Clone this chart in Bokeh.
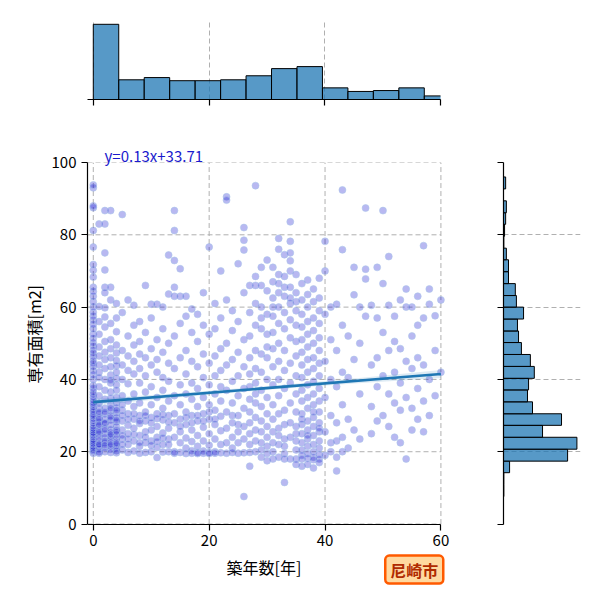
import numpy as np
from bokeh.plotting import figure
from bokeh.layouts import column, row
from bokeh.models import Title, Label, FixedTicker, Range1d
from bokeh.embed import file_html
from bokeh.resources import INLINE

FONT = "Noto Sans CJK JP"

# scatter: area [m2] of each listing, grouped by building age (index = age in years)
area_by_age = [
    [19.6, 20.1, 20.5, 21.0, 21.4, 22.0, 22.3, 22.8, 23.3, 24.0, 24.5, 25.0, 25.3, 25.9, 26.4, 27.0,
     27.8, 28.5, 29.1, 29.8, 30.2, 31.0, 31.5, 32.3, 33.0, 33.5, 34.2, 35.0, 35.8, 36.5, 37.5, 38.3,
     40.0, 41.2, 42.3, 43.5, 44.4, 45.1, 46.3, 47.2, 48.0, 49.2, 50.1, 51.3, 52.5, 54.0, 55.2, 56.4,
     57.5, 58.6, 60.0, 61.5, 63.0, 64.3, 65.5, 68.3, 70.2, 71.8, 76.6, 81.2, 87.5, 88.0, 93.0, 93.8],
    [83.0, 60.2, 56.0, 52.5, 49.0, 46.5, 44.0, 42.0, 40.5, 38.0, 35.5, 33.5, 32.0, 30.6, 29.5, 28.3,
     27.2, 26.0, 25.0, 24.0, 23.2, 22.3, 21.5, 20.8, 20.0, 19.6, 29.0, 25.5, 22.0, 31.0, 27.5],
    [86.7, 83.0, 75.0, 70.3, 65.5, 64.0, 59.8, 57.3, 54.5, 50.5, 47.5, 45.5, 43.0, 40.0, 37.0, 34.5,
     32.0, 30.5, 29.0, 27.8, 26.5, 25.0, 24.0, 22.5, 21.2, 20.0, 31.0, 28.0, 23.0, 26.0, 21.8],
    [86.7, 65.5, 62.0, 55.5, 51.0, 48.5, 46.0, 43.5, 41.2, 39.0, 36.5, 34.8, 33.0, 31.4, 30.0, 28.8,
     27.5, 26.2, 25.4, 24.3, 23.5, 22.6, 21.6, 20.7, 19.8, 39.8, 29.5, 24.8, 32.0, 22.0],
    [61.0, 57.0, 53.2, 49.5, 47.3, 45.2, 43.8, 42.0, 40.3, 38.5, 37.0, 35.0, 33.6, 32.2, 30.8, 29.5,
     28.3, 27.0, 26.0, 24.8, 23.8, 22.8, 21.8, 21.0, 20.3, 19.7, 31.5, 22.3, 25.5, 28.8],
    [85.6, 58.5, 48.0, 44.0, 40.0, 35.5, 31.5, 28.5, 26.0, 23.5, 20.5, 22.0, 30.0, 24.5, 33.0],
    [62.0, 52.0, 46.5, 42.5, 38.8, 34.0, 30.5, 27.3, 25.0, 22.0, 19.8, 29.0, 23.5],
    [60.5, 55.0, 49.5, 45.0, 41.5, 36.0, 32.5, 29.0, 26.5, 23.0, 20.2, 30.5, 24.8],
    [56.0, 50.5, 47.0, 43.0, 39.0, 33.5, 30.0, 27.8, 24.5, 21.5, 19.6, 28.5, 22.5],
    [66.0, 53.0, 46.0, 41.0, 36.5, 31.0, 28.5, 25.5, 22.5, 19.8, 30.0, 24.0],
    [60.8, 57.0, 48.5, 44.0, 38.0, 33.0, 29.5, 26.0, 23.0, 20.0, 28.0, 21.8],
    [60.8, 51.0, 45.5, 42.0, 35.0, 30.5, 27.0, 24.0, 21.2, 18.4, 29.2, 22.8],
    [60.0, 54.0, 47.5, 40.5, 37.0, 32.0, 28.8, 25.2, 22.0, 19.9, 30.2, 23.8],
    [74.4, 63.6, 50.0, 44.5, 39.5, 34.0, 30.0, 26.5, 23.5, 20.0, 28.2, 22.0],
    [86.7, 81.2, 72.9, 65.5, 63.0, 52.0, 43.0, 35.5, 28.0, 24.0, 20.0, 19.6, 30.5],
    [70.6, 63.0, 55.5, 46.0, 38.5, 33.0, 29.0, 25.5, 22.5, 19.8, 27.0],
    [63.0, 57.5, 48.0, 41.5, 36.0, 31.0, 27.5, 23.8, 21.0, 19.5, 29.5],
    [59.5, 53.0, 45.0, 39.0, 34.5, 30.0, 26.0, 22.8, 20.3, 19.6, 28.0],
    [58.0, 50.5, 43.5, 37.5, 32.5, 28.5, 24.5, 21.5, 19.8, 19.5, 30.0],
    [64.0, 55.0, 47.0, 40.5, 35.0, 30.5, 26.8, 23.0, 20.2, 19.6, 28.5],
    [76.6, 52.5, 44.5, 38.5, 33.0, 29.0, 25.0, 21.8, 19.8, 19.5, 31.0],
    [61.0, 54.0, 46.5, 41.0, 36.0, 31.5, 27.5, 23.5, 20.0, 19.6, 29.0],
    [70.0, 57.0, 48.5, 42.5, 34.0, 29.8, 25.8, 22.0, 19.7, 38.0],
    [90.5, 89.6, 62.0, 50.0, 44.0, 37.0, 31.0, 26.5, 19.6, 22.5],
    [59.0, 53.5, 45.5, 39.5, 33.5, 28.0, 24.0, 21.0, 19.8, 30.0],
    [72.0, 56.0, 47.5, 41.0, 35.5, 30.0, 25.5, 22.5, 19.6, 27.5],
    [82.0, 78.5, 75.8, 64.0, 51.0, 43.5, 37.5, 32.0, 27.0, 23.5, 7.6, 19.7],
    [66.0, 58.5, 52.0, 46.0, 41.5, 38.0, 34.5, 31.0, 28.0, 25.0, 22.0, 19.8, 16.0],
    [93.6, 68.5, 66.0, 61.0, 55.0, 48.0, 43.0, 39.0, 33.5, 29.5, 26.0, 23.0, 20.0, 36.0],
    [71.0, 66.0, 60.0, 54.0, 47.0, 42.0, 37.0, 32.5, 28.5, 25.5, 22.5, 20.5, 18.5, 57.0],
    [73.0, 64.5, 58.0, 52.5, 46.0, 40.0, 35.0, 30.5, 27.0, 24.0, 21.5, 19.5, 17.5, 49.0],
    [71.0, 67.0, 62.5, 57.5, 53.0, 48.5, 43.5, 38.5, 33.0, 29.0, 25.5, 22.5, 20.0, 18.0, 60.0],
    [79.0, 76.0, 69.0, 64.0, 60.0, 55.5, 50.0, 45.0, 40.0, 35.5, 30.5, 26.5, 22.0, 18.5, 66.5, 24.5],
    [74.5, 68.5, 63.0, 58.5, 54.0, 48.0, 42.5, 37.5, 31.5, 27.5, 23.5, 19.5, 18.0, 11.5, 65.5, 21.5],
    [83.6, 78.2, 75.0, 72.8, 70.0, 65.5, 61.0, 56.5, 51.5, 44.5, 39.0, 33.5, 28.0, 18.0, 62.5, 24.0],
    [69.0, 64.0, 59.0, 55.0, 50.5, 46.5, 41.0, 36.0, 31.0, 27.0, 23.0, 20.5, 18.0, 16.5, 61.5, 25.0],
    [66.5, 62.0, 58.0, 54.5, 51.0, 47.5, 44.0, 40.5, 37.0, 34.0, 30.5, 27.5, 25.0, 22.5, 20.5, 19.0,
     18.0, 16.0, 29.0],
    [67.5, 63.5, 60.0, 56.0, 52.5, 49.0, 45.5, 42.0, 38.5, 35.0, 32.0, 28.5, 26.0, 23.5, 21.5, 19.5,
     18.2, 16.5, 24.5],
    [65.0, 61.5, 57.0, 53.5, 50.0, 46.0, 43.0, 39.5, 36.0, 33.0, 29.5, 27.0, 24.5, 22.0, 20.0, 18.5,
     17.8, 15.5, 31.0],
    [68.0, 62.5, 59.0, 55.5, 51.5, 48.0, 44.5, 41.0, 37.5, 34.0, 31.0, 28.0, 25.5, 23.0, 21.0, 19.2,
     18.0, 17.0, 26.5],
    [78.2, 70.0, 58.0, 45.0, 35.0, 25.5, 19.0],
    [60.0, 51.0, 40.0, 30.0, 22.5, 20.0],
    [60.8, 48.0, 38.0, 28.0, 23.0, 18.5, 14.7],
    [92.4, 75.9, 55.0, 42.0, 33.0, 24.0, 20.0],
    [52.0, 40.5, 29.0, 21.0],
    [71.0, 63.4, 45.5, 26.0],
    [60.0, 50.0, 36.0, 23.5],
    [87.4, 70.5, 67.8, 57.5],
    [60.5, 44.0, 32.5, 25.0],
    [71.0, 57.0, 46.0, 38.0, 28.5],
    [86.7, 66.5, 53.0, 41.0, 30.0],
    [74.0, 60.5, 48.0, 36.0, 27.0],
    [57.5, 50.5, 42.0, 33.5, 24.0],
    [62.0, 48.5, 39.0, 31.5, 22.5],
    [65.0, 60.0, 45.0, 35.0, 18.0],
    [60.0, 52.0, 43.0, 32.0, 26.0],
    [63.0, 55.0, 46.0, 37.5, 29.0],
    [77.0, 57.0, 44.0, 34.0, 25.5],
    [65.0, 60.8, 40.0, 30.0],
    [57.6, 48.0, 35.5],
    [62.0, 42.0],
]

# marginal histograms (counts)
age_edges = [0, 4.4, 8.8, 13.2, 17.6, 22.0, 26.4, 30.8, 35.2, 39.6, 44.0, 48.4, 52.8, 57.2, 61.6]
age_counts = [336, 88, 98, 84, 84, 88, 106, 138, 147, 52, 36, 40, 52, 16]

area_edges = [7.6, 10.9, 14.2, 17.4, 20.7, 24.0, 27.3, 30.5, 33.8, 37.1, 40.3, 43.6, 46.9, 50.2,
              53.4, 56.7, 60.0, 63.2, 66.5, 69.8, 73.1, 76.3, 79.6, 82.9, 86.1, 89.4, 92.7, 96.0]
area_counts = [1, 1, 17, 179, 205, 109, 162, 81, 67, 70, 86, 75, 50, 42, 39, 56, 36, 33, 14, 14,
               8, 1, 3, 6, 8, 0, 6]

# regression y = slope*x + intercept, with a narrow confidence band
slope, intercept = 0.13, 33.71
band_x = [0, 15, 30, 45, 60]
band_half = [0.9, 0.6, 0.5, 0.7, 1.1]

city = "尼崎市"

ages, areas = [], []
for a, vals in enumerate(area_by_age):
    ages += [a] * len(vals)
    areas += vals

BAR = "#1f77b4"
GRID = "#b0b0b0"
DASH = "5 3"


def style(fig):
    fig.outline_line_color = None
    fig.background_fill_color = "white"
    fig.border_fill_color = "white"
    for ax in fig.axis:
        ax.axis_line_color = "black"
        ax.axis_line_width = 1.2
        ax.major_tick_line_color = "black"
        ax.major_tick_line_width = 1.2
        ax.major_tick_out = 6
        ax.major_tick_in = 0
        ax.minor_tick_line_color = None
        ax.major_label_text_font = FONT
        ax.major_label_text_font_size = "15px"
        ax.major_label_text_color = "black"
        ax.axis_label_text_font = FONT
        ax.axis_label_text_font_size = "16px"
        ax.axis_label_text_font_style = "normal"
        ax.axis_label_text_color = "black"
    for g in fig.grid:
        g.grid_line_color = GRID
        g.grid_line_dash = DASH
        g.grid_line_width = 1


xticks = [0, 20, 40, 60]
yticks = [0, 20, 40, 60, 80, 100]
x_lo, x_hi = -1, 60
y_lo = -17  # room below the x axis for its labels and the city badge

# main scatter; the frame is a bit larger than the data area so that the
# tick labels and the badge are not cut, axes are bounded to the data area
p = figure(width=460, height=455, x_range=Range1d(x_lo, 62), y_range=Range1d(y_lo, 100),
           output_backend="svg", toolbar_location=None,
           min_border_left=87, min_border_right=8, min_border_top=32, min_border_bottom=0)
style(p)
p.xaxis.fixed_location = 0
p.xaxis.bounds = (x_lo, x_hi)
p.xaxis.ticker = FixedTicker(ticks=xticks)
p.yaxis.ticker = FixedTicker(ticks=yticks)
p.yaxis.bounds = (0, 100)
p.grid.visible = False
p.xaxis.axis_label = "築年数[年]"

# grid lines, only over the data area
p.segment(x0=xticks, y0=[0] * len(xticks), x1=xticks, y1=[100] * len(xticks),
          line_color=GRID, line_dash=DASH, line_width=1, level="underlay")
p.segment(x0=[x_lo] * len(yticks), y0=yticks, x1=[x_hi] * len(yticks), y1=yticks,
          line_color=GRID, line_dash=DASH, line_width=1, level="underlay")

p.scatter(ages, areas, size=7, marker="circle", fill_color="#0000cd", fill_alpha=0.28,
          line_color="#a9c4ea", line_alpha=0.55, line_width=1)

bx = np.array(band_x, dtype=float)
bh = np.array(band_half)
p.varea(x=bx, y1=slope * bx + intercept - bh, y2=slope * bx + intercept + bh,
        fill_color=BAR, fill_alpha=0.15)
p.line([0, 60], [intercept, slope * 60 + intercept], line_color=BAR, line_width=2.6)

# y axis title, placed along the data area
p.add_layout(Title(text="専有面積[m2]", align="left", offset=202, standoff=6,
                   text_font=FONT, text_font_size="16px", text_font_style="normal",
                   text_color="black"), "left")

# equation above the top-left corner, city badge below the right end of the x axis
p.add_layout(Title(text=f"y={slope}x+{intercept}", align="left", offset=17, standoff=-7,
                   text_font=FONT, text_font_size="15px", text_font_style="normal",
                   text_color="#1a1acd"), "above")
p.add_layout(Label(x=55.4, y=-12.6, text=city, text_font=FONT, text_font_size="16px",
                   text_font_style="bold", text_color="#b02a00", text_align="center",
                   text_baseline="middle", background_fill_color="#ffd9a0",
                   border_line_color="#ff5a00", border_line_width=2.5,
                   padding=dict(left=5, right=5, top=2, bottom=2), border_radius=4))

# top marginal histogram
th = figure(width=460, height=130, x_range=Range1d(x_lo, x_hi), y_range=Range1d(0, 353),
            output_backend="svg", toolbar_location=None,
            min_border_left=87, min_border_right=20, min_border_top=20, min_border_bottom=31)
style(th)
th.yaxis.visible = False
th.ygrid.visible = False
th.xaxis.ticker = FixedTicker(ticks=xticks)
th.xgrid.ticker = FixedTicker(ticks=xticks)
th.xaxis.major_label_overrides = {t: "" for t in xticks}
th.quad(left=age_edges[:-1], right=age_edges[1:], bottom=0, top=age_counts,
        fill_color=BAR, fill_alpha=0.75, line_color="black", line_width=1)

# right marginal histogram
rh = figure(width=130, height=455, x_range=Range1d(0, 215), y_range=p.y_range,
            output_backend="svg", toolbar_location=None,
            min_border_left=43, min_border_right=10, min_border_top=32, min_border_bottom=0)
style(rh)
rh.xaxis.visible = False
rh.xgrid.visible = False
rh.yaxis.ticker = FixedTicker(ticks=yticks)
rh.yaxis.bounds = (0, 100)
rh.ygrid.ticker = FixedTicker(ticks=yticks[1:])
rh.yaxis.major_label_overrides = {t: "" for t in yticks}
rh.quad(left=0, right=area_counts, bottom=area_edges[:-1], top=area_edges[1:],
        fill_color=BAR, fill_alpha=0.75, line_color="black", line_width=1)

layout = column(th, row(p, rh))
open("out.html", "w").write(file_html(layout, INLINE))
